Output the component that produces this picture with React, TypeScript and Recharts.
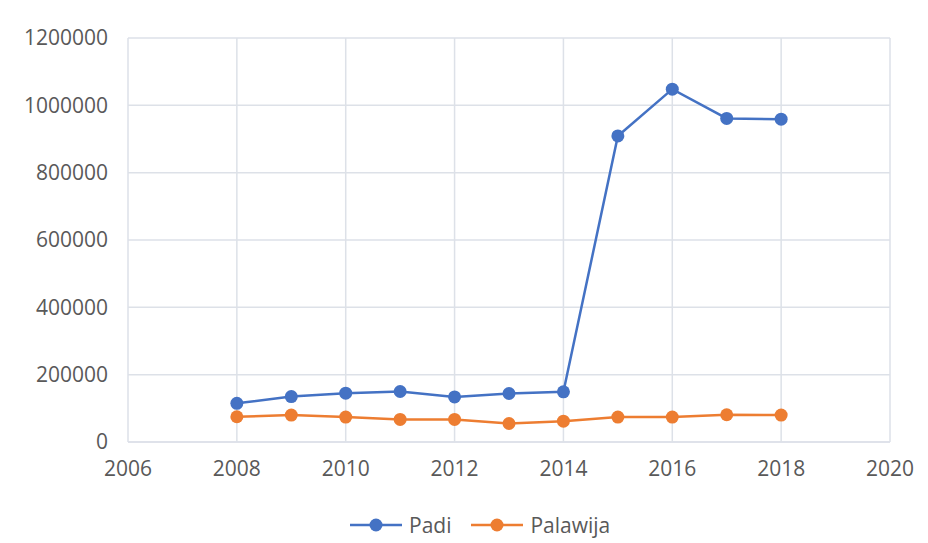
import { LineChart, Line, XAxis, YAxis, CartesianGrid, Legend } from 'recharts';

const years = [2008, 2009, 2010, 2011, 2012, 2013, 2014, 2015, 2016, 2017, 2018];
const padi = [115000, 135000, 145000, 150000, 134000, 144000, 149000, 909000, 1048000, 961000, 959000];
const palawija = [75000, 80000, 74000, 67000, 67000, 55000, 62000, 74000, 74000, 81000, 80000];
const xTicks = [2006, 2008, 2010, 2012, 2014, 2016, 2018, 2020];
const yTicks = [0, 200000, 400000, 600000, 800000, 1000000, 1200000];

const BLUE = '#4472C4';
const ORANGE = '#ED7D31';
const TEXT = '#595959';
const GRID = '#dde1e8';
const FONT = '"Open Sans", sans-serif';

const data = years.map((year, i) => ({ year, padi: padi[i], palawija: palawija[i] }));

function LegendItem({ color, label }: { color: string; label: string }) {
  return (
    <div style={{ display: 'flex', alignItems: 'center', marginRight: 20 }}>
      <svg width={54} height={16}>
        <line x1={0} y1={8} x2={52} y2={8} stroke={color} strokeWidth={2.5} />
        <circle cx={26} cy={8} r={6.5} fill={color} />
      </svg>
      <span style={{ marginLeft: 5, color: TEXT, fontFamily: FONT, fontSize: 21 }}>{label}</span>
    </div>
  );
}

function ChartLegend() {
  return (
    <div style={{ height: 51, display: 'flex', justifyContent: 'flex-start', alignItems: 'flex-start', paddingTop: 19, boxSizing: 'border-box', paddingLeft: 350 }}>
      <LegendItem color={BLUE} label="Padi" />
      <LegendItem color={ORANGE} label="Palawija" />
    </div>
  );
}

export default function App() {
  return (
    <div style={{ position: 'absolute', left: 0, top: 0, width: 928, height: 543, background: '#fff' }}>
      <LineChart width={928} height={543} data={data} margin={{ top: 38, right: 38, left: 0, bottom: 0 }}>
        <CartesianGrid stroke={GRID} strokeWidth={1.5} />
        <XAxis
          dataKey="year"
          type="number"
          domain={[2006, 2020]}
          ticks={xTicks}
          height={50}
          tickSize={0}
          tickMargin={19}
          axisLine={{ stroke: GRID, strokeWidth: 1.5 }}
          tick={{ fill: TEXT, fontSize: 21, fontFamily: FONT }}
        />
        <YAxis
          domain={[0, 1200000]}
          ticks={yTicks}
          width={128}
          tickSize={0}
          tickMargin={20}
          axisLine={false}
          tick={{ fill: TEXT, fontSize: 21, fontFamily: FONT }}
        />
        <Legend verticalAlign="bottom" content={() => <ChartLegend />} />
        <Line
          dataKey="padi"
          name="Padi"
          stroke={BLUE}
          strokeWidth={2.5}
          dot={{ r: 6.5, fill: BLUE, stroke: BLUE, strokeWidth: 0 }}
          isAnimationActive={false}
        />
        <Line
          dataKey="palawija"
          name="Palawija"
          stroke={ORANGE}
          strokeWidth={2.5}
          dot={{ r: 6.5, fill: ORANGE, stroke: ORANGE, strokeWidth: 0 }}
          isAnimationActive={false}
        />
      </LineChart>
    </div>
  );
}
